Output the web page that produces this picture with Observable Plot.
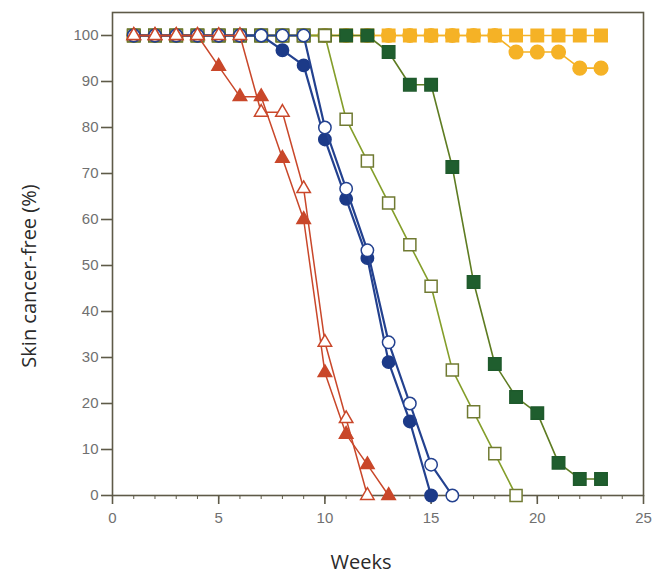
<!DOCTYPE html>
<html><head><meta charset="utf-8">
<script src="https://cdn.jsdelivr.net/npm/d3@7"></script>
<script src="https://cdn.jsdelivr.net/npm/@observablehq/plot@0.6"></script>
<style>
body{margin:0;background:#fff}
#chart svg{display:block;background:#fff}
</style>
</head><body><div id="chart"></div>
<script>
const weeks = [1,2,3,4,5,6,7,8,9,10,11,12,13,14,15,16,17,18,19,20,21,22,23];
const xMajorTicks = [0,5,10,15,20,25];
const xMinorTicks = [0,1,2,3,4,5,6,7,8,9,10,11,12,13,14,15,16,17,18,19,20,21,22,23,24,25];
const yTicks = [0,10,20,30,40,50,60,70,80,90,100];

const orangeCircles = [100,100,100,100,100,100,100,100,100,100,100,100,100,100,100,100,100,100,96.4,96.4,96.4,92.9,92.9];
const orangeSquares = [100,100,100,100,100,100,100,100,100,100,100,100,100,100,100,100,100,100,100,100,100,100,100];
const darkGreenSquares = [100,100,100,100,100,100,100,100,100,100,100,100,96.4,89.3,89.3,71.4,46.4,28.6,21.4,17.9,7.1,3.6,3.6];
const openSquares = [100,100,100,100,100,100,100,100,100,100,81.8,72.7,63.6,54.5,45.5,27.3,18.2,9.1,0];
const blueFilled = [100,100,100,100,100,100,100,96.8,93.5,77.4,64.5,51.6,29.0,16.1,0];
const blueOpen = [100,100,100,100,100,100,100,100,100,80,66.7,53.3,33.3,20,6.7,0];
const redFilled = [100,100,100,100,93.3,86.7,86.7,73.3,60,26.7,13.3,6.7,0];
const redOpen = [100,100,100,100,100,100,83.3,83.3,66.7,33.3,16.7,0];

const series = [
  {values: orangeCircles, symbol: "circle", line: "#f5b226", stroke: "#f5b226", fill: "#f5b226", r: 6.8, lw: 1.6},
  {values: orangeSquares, symbol: "square", line: "#f5b226", stroke: "#f5b226", fill: "#f5b226", r: 7.0, lw: 1.6},
  {values: darkGreenSquares, symbol: "square", line: "#5e7c22", stroke: "#1f5a2c", fill: "#1f5e2e", r: 7.0, lw: 1.6},
  {values: openSquares, symbol: "square", line: "#849e2a", stroke: "#707a32", fill: "#ffffff", r: 6.8, lw: 1.6},
  {values: blueFilled, symbol: "circle", line: "#23418f", stroke: "#1c3a88", fill: "#1c3a88", r: 6.2, lw: 2.2},
  {values: blueOpen, symbol: "circle", line: "#23418f", stroke: "#23418f", fill: "#ffffff", r: 6.2, lw: 2.2},
  {values: redFilled, symbol: "triangle", line: "#c9472a", stroke: "#c9472a", fill: "#c9472a", r: 5.0, lw: 1.5},
  {values: redOpen, symbol: "triangle", line: "#c9472a", stroke: "#c9472a", fill: "#ffffff", r: 5.0, lw: 1.5}
];

const marks = [];
for (const s of series) {
  const rows = s.values.map((v, i) => ({week: weeks[i], value: v}));
  marks.push(Plot.line(rows, {x: "week", y: "value", stroke: s.line, strokeWidth: s.lw}));
  marks.push(Plot.dot(rows, {x: "week", y: "value", symbol: s.symbol, r: s.r, fill: s.fill, stroke: s.stroke, strokeWidth: 1.5}));
}

const axisColor = "#5e5a48";
const chart = Plot.plot({
  width: 652,
  height: 573,
  marginLeft: 112,
  marginRight: 9,
  marginTop: 12,
  marginBottom: 78,
  style: {fontFamily: "Liberation Sans, Arial, sans-serif", background: "#fff"},
  x: {domain: [0, 25]},
  y: {domain: [0, 105]},
  marks: [
    Plot.frame({stroke: axisColor, strokeWidth: 1.6}),
    Plot.axisX({ticks: xMinorTicks, tickSize: 4, tickFormat: () => "", stroke: axisColor, label: null}),
    Plot.axisX({ticks: xMajorTicks, tickSize: 9, tickPadding: 8, fontSize: 15, stroke: axisColor, strokeWidth: 1.6,
      label: "Weeks", labelAnchor: "center", labelArrow: "none", labelOffset: 72}),
    Plot.axisY({ticks: yTicks, tickSize: 11, tickPadding: 3, fontSize: 15, stroke: axisColor, strokeWidth: 1.6,
      label: "Skin cancer-free (%)", labelAnchor: "center", labelArrow: "none", labelOffset: 94}),
    ...marks
  ]
});
document.getElementById("chart").appendChild(chart);

const svg = d3.select(chart);
svg.selectAll('g[aria-label="x-axis tick label"], g[aria-label="y-axis tick label"]').attr("fill", "#707070");
function shift(sel, dx, dy) {
  sel.each(function() {
    const g = d3.select(this);
    const old = g.attr("transform") || "";
    g.attr("transform", `translate(${dx},${dy}) ${old}`);
  });
}
const xl = svg.selectAll('g[aria-label="x-axis label"]');
const yl = svg.selectAll('g[aria-label="y-axis label"]');
[xl, yl].forEach(s => s.attr("fill", "#2a2a2a")
  .style("font-family", "'Open Sans', 'Noto Sans', sans-serif")
  .style("font-size", "20px"));
shift(xl, -17, 1);
shift(yl, 3, 22);
</script>
</body></html>
